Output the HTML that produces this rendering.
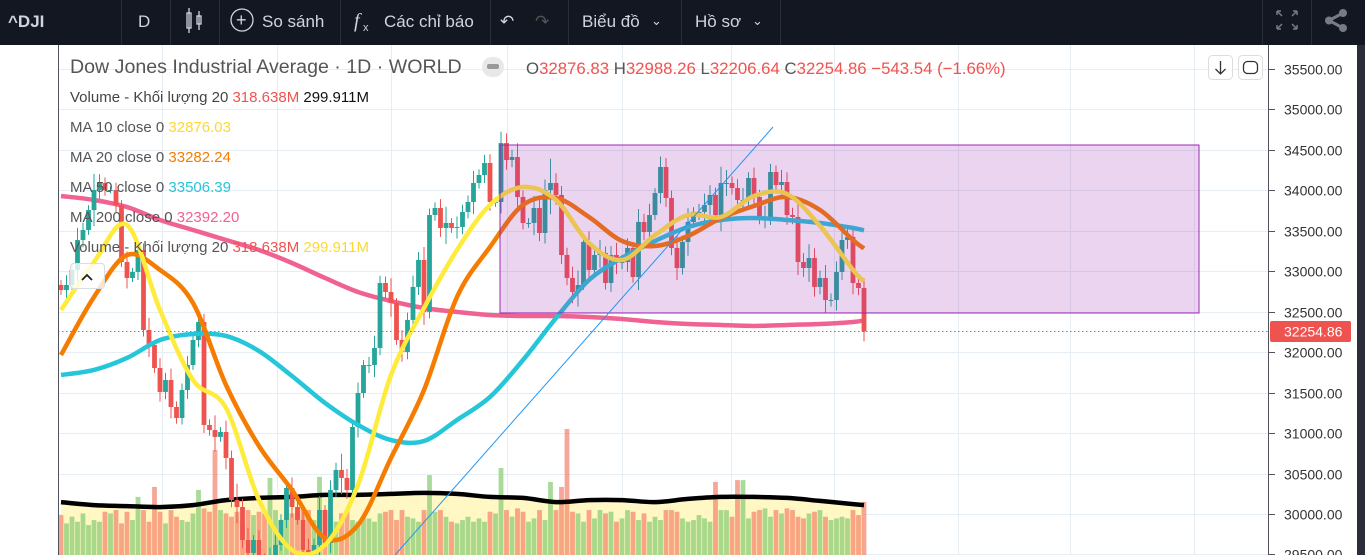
<!DOCTYPE html>
<html><head><meta charset="utf-8"><style>
html,body{margin:0;padding:0;width:1365px;height:555px;overflow:hidden;background:#fff;font-family:"Liberation Sans","Noto Sans CJK SC",sans-serif}
svg{display:block}
</style></head><body>
<svg id="chart" width="1365" height="555" xmlns="http://www.w3.org/2000/svg">
<rect x="0" y="0" width="1365" height="555" fill="#fff"/>
<g id="grid"></g>
<g id="vol"></g>
<g id="ma200g"></g>
<g id="candles"></g>
<g id="mas"></g>
<rect x="500" y="145" width="699" height="168" fill="rgba(156,39,176,0.2)" stroke="#9c27b0" stroke-width="1"/>
<line x1="395" y1="555" x2="773" y2="127" stroke="#2196f3" stroke-width="1"/>
<g id="axis"></g>
<rect x="0" y="0" width="1365" height="45" fill="#131722"/>
<rect x="1357" y="45" width="8" height="510" fill="#2a2e39"/>
<g fill="#d1d4dc" font-size="17">
<text x="8" y="27" font-weight="bold">^DJI</text>
<text x="138" y="27">D</text>
<g stroke="#d1d4dc" fill="none" stroke-width="1.3"><rect x="187" y="13" width="4" height="15"/><line x1="189" y1="8" x2="189" y2="33"/><rect x="197" y="16" width="4" height="8"/><line x1="199" y1="11" x2="199" y2="30"/></g>
<circle cx="242" cy="20" r="11" fill="none" stroke="#d1d4dc" stroke-width="1.3"/>
<text x="236" y="26" font-size="18">+</text>
<text x="262" y="27">So sánh</text>
<text x="354" y="27" font-style="italic" font-family="Liberation Serif" font-size="20">f</text><text x="363" y="31" font-size="11">x</text>
<text x="384" y="27">Các chỉ báo</text>
<text x="500" y="27">↶</text>
<text x="535" y="27" fill="#555">↷</text>
<text x="582" y="27">Biểu đồ</text>
<text x="651" y="25" font-size="13">⌄</text>
<text x="695" y="27">Hồ sơ</text>
<text x="752" y="25" font-size="13">⌄</text>
</g>
<g stroke="#2a2e39" stroke-width="1">
<line x1="121.5" y1="0" x2="121.5" y2="45"/><line x1="170.5" y1="0" x2="170.5" y2="45"/><line x1="219.5" y1="0" x2="219.5" y2="45"/><line x1="340.5" y1="0" x2="340.5" y2="45"/><line x1="490.5" y1="0" x2="490.5" y2="45"/><line x1="568.5" y1="0" x2="568.5" y2="45"/><line x1="681.5" y1="0" x2="681.5" y2="45"/><line x1="780.5" y1="0" x2="780.5" y2="45"/><line x1="1262.5" y1="0" x2="1262.5" y2="45"/><line x1="1311.5" y1="0" x2="1311.5" y2="45"/>
</g>
<g stroke="#787b86" stroke-width="1.5" fill="none">
<path d="M1277 11 l5 5 M1277 11 h4 M1277 11 v4 M1297 11 l-5 5 M1297 11 h-4 M1297 11 v4 M1277 29 l5 -5 M1277 29 h4 M1277 29 v-4 M1297 29 l-5 -5 M1297 29 h-4 M1297 29 v-4"/>
</g>
<g fill="#787b86"><circle cx="1343" cy="13" r="4"/><circle cx="1343" cy="28" r="4"/><circle cx="1329" cy="20.5" r="4"/><path d="M1343 13 L1329 20.5 L1343 28" stroke="#787b86" stroke-width="3" fill="none"/></g>
<line x1="58.5" y1="45" x2="58.5" y2="555" stroke="#50535e"/>
<g font-size="15">
<text x="70" y="73" font-size="19.6" fill="#555">Dow Jones Industrial Average · 1D · WORLD</text>
<rect x="482" y="57" width="22" height="20" rx="10" fill="#e8e8e8"/><rect x="487" y="64" width="12" height="5" rx="2" fill="#999"/>
<text x="526" y="74" fill="#555" font-size="16.8">O<tspan fill="#ef5350">32876.83</tspan> H<tspan fill="#ef5350">32988.26</tspan> L<tspan fill="#ef5350">32206.64</tspan> C<tspan fill="#ef5350">32254.86  −543.54 (−1.66%)</tspan></text>
<text x="70" y="102" fill="#444">Volume - Khối lượng 20  <tspan fill="#ef5350">318.638M</tspan>  <tspan fill="#111">299.911M</tspan></text>
<text x="70" y="132" fill="#555">MA 10 close 0  <tspan fill="#fdd835">32876.03</tspan></text>
<text x="70" y="162" fill="#555">MA 20 close 0  <tspan fill="#f57c00">33282.24</tspan></text>
<text x="70" y="192" fill="#555">MA 50 close 0  <tspan fill="#26c6da">33506.39</tspan></text>
<text x="70" y="222" fill="#555">MA 200 close 0  <tspan fill="#f06292">32392.20</tspan></text>
<text x="70" y="252" fill="#555">Volume - Khối lượng 20  <tspan fill="#ef5350">318.638M</tspan>  <tspan fill="#fdd835">299.911M</tspan></text>
</g>
<rect x="70.5" y="263.5" width="34" height="25" rx="3" fill="rgba(255,255,255,0.8)" stroke="#ddd"/>
<path d="M82 280 l5 -5 l5 5" stroke="#222" stroke-width="1.8" fill="none"/>
<rect x="1208.5" y="55.5" width="24" height="24" rx="4" fill="#fff" stroke="#ddd"/>
<path d="M1220.5 61 v13 M1215.5 69 l5 5 l5 -5" stroke="#333" stroke-width="1.3" fill="none"/>
<rect x="1238.5" y="55.5" width="24" height="24" rx="4" fill="#fff" stroke="#ddd"/>
<rect x="1243.5" y="61.5" width="14" height="12" rx="4" fill="none" stroke="#333" stroke-width="1.3"/>
</svg>
<script>
const closes=[32768,32830,33016,33386,33510,33757,34004,34091,34004,34004,33819,33114,32917,32991,33263,32274,32089,31804,31508,31656,31322,31186,31532,31841,32150,32373,31100,31038,30952,31013,30692,30173,30086,29678,29518,29678,29431,29369,29493,29617,29926,30321,30086,29926,29555,29431,29617,30049,29641,30296,30544,30445,30296,31075,31495,31841,31841,32052,32855,32744,32608,32150,32002,32398,32806,33139,32497,33695,33782,33535,33597,33535,33547,33733,33856,34091,34190,34338,33856,33856,34585,34375,34412,33918,33597,33597,33782,33473,34004,34091,33943,33201,32917,32744,32830,33362,33016,33201,33226,32855,33201,33114,33114,33288,32929,33609,33485,33695,33967,34289,33906,33288,33040,33362,33609,33733,33733,33819,33943,33695,34091,34091,34029,33881,33881,34153,33918,33671,33671,34227,34066,34103,33695,33671,33114,33040,33164,32806,32917,32645,32645,32991,33386,33424,32855,32793,32255];
const firstOpen=32830;
const wicks=[60,120,80,150,90,60,200,110,70,40,90,60,130,50,100,80,150,60,120,90,140,70,80,110,60,90,100,70,180,60,140,90,200,100,150,60,120,80,90,160,70,100,130,60,110,140,80,170,60,120,90,200,110,70,130,60,100,150,90,80,170,60,120,90,140,100,160,80,70,110,200,60,130,90,80,150,70,100,110,60,140,120,90,170,80,60,150,100,130,300,120,110,90,140,180,60,130,100,160,80,110,150,90,120,70,160,100,140,60,130,110,90,150,80,170,60,100,140,120,90,200,160,80,110,150,70,130,90,140,100,80,150,120,90,160,110,170,120,90,160,80,130,100,110,140,90,120];
const volumes=[240,190,230,200,250,180,210,200,260,250,270,190,260,210,349,270,200,409,260,190,270,230,210,200,250,391,280,260,631,270,250,230,260,200,270,240,260,250,463,270,200,270,250,260,280,270,210,470,270,230,200,250,270,210,200,230,220,200,250,260,270,210,270,230,220,200,270,480,260,270,230,200,190,210,230,200,220,200,260,250,523,270,230,280,260,200,220,270,210,439,270,409,757,260,250,200,270,220,270,250,260,200,220,270,260,210,250,200,230,210,270,270,260,220,200,210,240,220,200,439,270,270,230,450,450,220,260,270,280,230,270,250,280,270,230,220,250,260,270,230,210,220,230,220,270,240,319];
const maIdx=[0,6,12,18,24,30,36,42,48,54,60,66,72,78,84,90,96,102,108,114,120,126,132,138,144,146];
const ma10=[32521,33115,33572,32521,31656,31310,30173,29555,29617,30358,31718,32546,33263,33819,34042,33881,33349,33139,33448,33695,33671,33930,33955,33559,33016,32876];
const ma20=[31965,32682,33201,33016,32608,31594,30840,30296,29703,29864,30692,31532,32682,33300,33819,33906,33671,33374,33312,33436,33658,33807,33918,33757,33386,33282];
const ma50=[31718,31780,31928,32150,32225,32200,32014,31705,31372,31100,30914,30902,31162,31446,31903,32422,32892,33164,33374,33547,33634,33658,33634,33597,33535,33506];
const ma200=[33930,33881,33794,33634,33510,33386,33263,33102,32917,32744,32632,32546,32497,32459,32447,32447,32435,32410,32373,32348,32336,32324,32336,32348,32373,32392];
const volMA=[318,300,294,288,300,330,343,349,361,361,367,373,367,349,343,318,330,330,318,337,349,349,343,325,306,300];
const priceTicks=[35500,35000,34500,34000,33500,33000,32500,32000,31500,31000,30500,30000,29500];
const lastPrice=32254.86;

const NS="http://www.w3.org/2000/svg";
const xOf=i=>61+5.5*i;
const yOf=p=>69+(35500-p)*0.0809;
const vY=v=>555-v*0.1664;
function mk(tag,attrs,parent){const e=document.createElementNS(NS,tag);for(const k in attrs)e.setAttribute(k,attrs[k]);parent.appendChild(e);return e;}
const grid=document.getElementById('grid');
const vgx=[162,277,391,507,622,731,834,958,1070,1194];
vgx.forEach(x=>{const l=mk('line',{x1:x+.5,y1:45,x2:x+.5,y2:555,stroke:'#e6edf3'},grid);

});
const axis=document.getElementById('axis');
priceTicks.forEach(p=>{const y=Math.round(yOf(p))+.5;
const l=mk('line',{x1:58,y1:y,x2:1268,y2:y,stroke:'#e6edf3'},grid);


mk('line',{x1:1268,y1:y,x2:1275,y2:y,stroke:'#50535e'},axis);
const t=mk('text',{x:1284,y:y+5,'font-size':14,fill:'#333'},axis);t.textContent=p.toFixed(2);

});
mk('line',{x1:1268.5,y1:45,x2:1268.5,y2:555,stroke:'#50535e'},axis);
const ly=yOf(lastPrice);
const dl=mk('line',{x1:58,y1:ly,x2:1268,y2:ly,stroke:'#ef5350','stroke-dasharray':'1.5 2.5'},axis);


const lb=mk('rect',{x:1270,y:ly-10.5,width:81,height:21,rx:2,fill:'#ef5350'},axis);


const lt=mk('text',{x:1284,y:ly+5,'font-size':14,fill:'#fff'},axis);lt.textContent=lastPrice.toFixed(2);

function smoothPath(pts){let d='M'+pts[0][0]+' '+pts[0][1];
for(let i=0;i<pts.length-1;i++){const p0=pts[i-1]||pts[i],p1=pts[i],p2=pts[i+1],p3=pts[i+2]||p2;
d+=' C'+(p1[0]+(p2[0]-p0[0])/6)+' '+(p1[1]+(p2[1]-p0[1])/6)+' '+(p2[0]-(p3[0]-p1[0])/6)+' '+(p2[1]-(p3[1]-p1[1])/6)+' '+p2[0]+' '+p2[1];}
return d;}
const vol=document.getElementById('vol');
const vpts=maIdx.map((i,k)=>[xOf(i),vY(volMA[k])]);
const vfill=mk('path',{d:smoothPath(vpts)+' L'+xOf(146)+' 555 L'+xOf(0)+' 555 Z',fill:'#fff8c4'},vol);


closes.forEach((c,i)=>{const o=i?closes[i-1]:firstOpen;const up=c>=o;const t=vY(volumes[i]);
const r=mk('rect',{x:xOf(i)-2.4,y:t,width:4.8,height:555-t,fill:up?'rgba(140,205,120,0.75)':'rgba(242,120,95,0.65)'},vol);

});
const vl=mk('path',{d:smoothPath(vpts),stroke:'#000','stroke-width':4.5,fill:'none'},vol);


function maLine(arr,color,w,parent,name){const pts=maIdx.map((i,k)=>[xOf(i),yOf(arr[k])]);
const p=mk('path',{d:smoothPath(pts),stroke:color,'stroke-width':w,fill:'none','stroke-linejoin':'round'},parent);

}
maLine(ma200,'#f06292',4.5,document.getElementById('ma200g'),'ma200-line');
const cg=document.getElementById('candles');
closes.forEach((c,i)=>{const o=i?closes[i-1]:firstOpen;const up=c>=o;const col=up?'#26a69a':'#ef5350';
const hi=Math.max(o,c)+wicks[i],lo=Math.min(o,c)-wicks[i];const x=xOf(i);
mk('line',{x1:x,y1:yOf(hi),x2:x,y2:yOf(lo),stroke:col,'stroke-width':1},cg);
const top=yOf(Math.max(o,c)),bot=yOf(Math.min(o,c));
const b=mk('rect',{x:x-2.4,y:top,width:4.8,height:Math.max(1,bot-top),fill:col},cg);

});
const mg=document.getElementById('mas');
maLine(ma50,'#26c6da',4.5,mg,'ma50-line');
maLine(ma20,'#f57c00',4.5,mg,'ma20-line');
maLine(ma10,'#ffeb3b',4.5,mg,'ma10-line');
</script>
</body></html>
